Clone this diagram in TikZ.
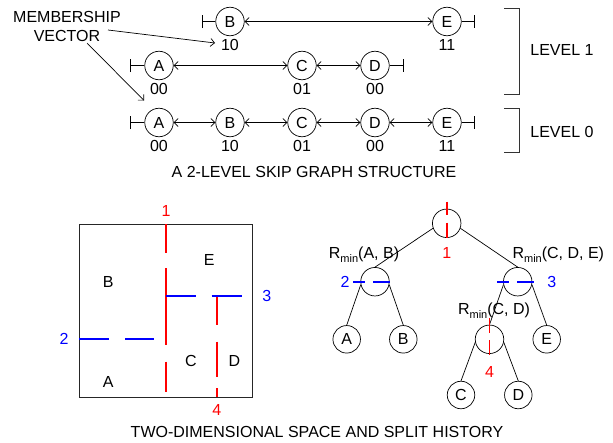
\documentclass[tikz,border=0pt]{standalone}
\usepackage{fontspec}
\setmainfont{Liberation Sans}
\usetikzlibrary{arrows.meta}
\newcommand{\Rmn}{R\raisebox{-0.45ex}{\fontsize{11}{11}\selectfont min}}
\tikzset{
  sg/.style={circle,draw,line width=0.7pt,minimum size=28.5pt,inner sep=0pt,font=\fontsize{16}{16}\selectfont},
  tn/.style={circle,draw,line width=0.7pt,minimum size=28.5pt,inner sep=0pt},
  lf/.style={circle,draw,line width=0.7pt,minimum size=27.5pt,inner sep=0pt,font=\fontsize{16}{16}\selectfont},
  lbl/.style={font=\fontsize{16}{16}\selectfont,inner sep=0pt},
  lnk/.style={line width=0.7pt,{Straight Barb[length=4pt,width=8pt]}-{Straight Barb[length=4pt,width=8pt]}},
  endbar/.style={line width=0.7pt,-{Bar[width=13pt,line width=0.9pt]}},
  ptr/.style={line width=0.7pt,-{Straight Barb[length=4pt,width=8pt]}},
  tedge/.style={line width=0.7pt},
  redl/.style={draw=red,line width=1.9pt},
  bluel/.style={draw=blue,line width=1.9pt},
}
\begin{document}
\begin{tikzpicture}[x=1pt,y=-1pt]
\useasboundingbox (0,0) rectangle (613,442);
% ---------- skip graph, level 1 top list
\node[sg] (B1) at (230,21.5) {B};
\node[sg] (E1) at (447,21.5) {E};
\node[lbl] at (230,45) {10};
\node[lbl] at (447,45) {11};
\coordinate (b1L) at (202,21.5);
\coordinate (b1R) at (475,21.5);
\draw[endbar] (B1) -- (b1L);
\draw[endbar] (E1) -- (b1R);
\draw[lnk] (B1) -- (E1);
% level 1 second list
\node[sg] (A2) at (159,65.5) {A};
\node[sg] (C2) at (302,65.5) {C};
\node[sg] (D2) at (375,65.5) {D};
\node[lbl] at (159,88.5) {00};
\node[lbl] at (302,88.5) {01};
\node[lbl] at (375,88.5) {00};
\coordinate (b2L) at (130,65.5);
\coordinate (b2R) at (404,65.5);
\draw[endbar] (A2) -- (b2L);
\draw[endbar] (D2) -- (b2R);
\draw[lnk] (A2) -- (C2);
\draw[lnk] (C2) -- (D2);
% level 0
\node[sg] (A0) at (159,122.5) {A};
\node[sg] (B0) at (230,122.5) {B};
\node[sg] (C0) at (302,122.5) {C};
\node[sg] (D0) at (375,122.5) {D};
\node[sg] (E0) at (447,122.5) {E};
\node[lbl] at (159,146) {00};
\node[lbl] at (230,146) {10};
\node[lbl] at (302,146) {01};
\node[lbl] at (375,146) {00};
\node[lbl] at (447,146) {11};
\coordinate (b0L) at (130,122.5);
\coordinate (b0R) at (475,122.5);
\draw[endbar] (A0) -- (b0L);
\draw[endbar] (E0) -- (b0R);
\draw[lnk] (A0) -- (B0);
\draw[lnk] (B0) -- (C0);
\draw[lnk] (C0) -- (D0);
\draw[lnk] (D0) -- (E0);
% membership vector
\node[lbl,align=center] (mv) at (67,26) {MEMBERSHIP\\[3pt]VECTOR};
\coordinate (mv1s) at (108,30);
\coordinate (mv1e) at (215,43);
\coordinate (mv2s) at (87,43);
\coordinate (mv2e) at (144,100.5);
\draw[ptr] (mv1s) -- (mv1e);
\draw[ptr] (mv2s) -- (mv2e);
% level brackets
\draw[line width=0.9pt,black!80] (504,8) -- (519,8) -- (519,94) -- (504,94);
\draw[line width=0.9pt,black!80] (504,108) -- (519,108) -- (519,152) -- (504,152);
\node[lbl] (lv1) at (562,50) {LEVEL 1};
\node[lbl] (lv0) at (562,132) {LEVEL 0};
\node[lbl] (cap1) at (314,172) {A 2-LEVEL SKIP GRAPH STRUCTURE};
% ---------- 2D space
\draw[line width=1pt,black!85] (79,224) rectangle (252,397);
\draw[redl] (166,224) -- (166,253.3);
\draw[redl] (166,268.3) -- (166,345);
\draw[redl] (166,361.7) -- (166,391.7);
\draw[bluel] (166,296) -- (195.7,296);
\draw[bluel] (211.7,296) -- (241.7,296);
\draw[bluel] (79,339) -- (109,339);
\draw[bluel] (125,339) -- (154.3,339);
\draw[redl] (216.7,296.7) -- (216.7,325);
\draw[redl] (216.7,341.7) -- (216.7,377.3);
\draw[redl] (216.7,388.3) -- (216.7,397);
\node[lbl,red] at (166,211) {1};
\node[lbl,blue] at (64,339) {2};
\node[lbl,blue] at (266.7,296) {3};
\node[lbl,red] at (216.7,410) {4};
\node[lbl] at (108.3,281.7) {B};
\node[lbl] at (209.3,260) {E};
\node[lbl] at (191,360.7) {C};
\node[lbl] at (234.3,360.7) {D};
\node[lbl] at (108.3,381.7) {A};
% ---------- split tree
\node[tn] (rt) at (446.7,223.3) {};
\node[tn] (lc) at (375,281.7) {};
\node[tn] (rc) at (517.7,281.7) {};
\node[tn] (ic) at (489.5,339.3) {};
\node[lf] (tA) at (346.7,339.3) {A};
\node[lf] (tB) at (403.3,339.3) {B};
\node[lf] (tE) at (546.7,339.3) {E};
\node[lf] (tC) at (461,395) {C};
\node[lf] (tD) at (518.3,395) {D};
\draw[tedge] (rt.200) -- (lc.north);
\draw[tedge] (rt.340) -- (rc.north);
\draw[tedge] (lc.192) -- (tA.north);
\draw[tedge] (lc.348) -- (tB.north);
\draw[tedge] (rc.192) -- (ic.north);
\draw[tedge] (rc.348) -- (tE.north);
\draw[tedge] (ic.192) -- (tC.north);
\draw[tedge] (ic.348) -- (tD.north);
\draw[redl] (446.7,201.7) -- (446.7,215);
\draw[redl] (446.7,222.5) -- (446.7,237.5);
\draw[bluel] (353,281.7) -- (364.5,281.7);
\draw[bluel] (373,281.7) -- (390,281.7);
\draw[bluel] (497,281.7) -- (508.5,281.7);
\draw[bluel] (517,281.7) -- (533.5,281.7);
\draw[redl] (489.5,318.3) -- (489.5,333.3);
\draw[redl] (489.5,340) -- (489.5,355);
\node[lbl,red] at (446.7,252.7) {1};
\node[lbl,blue] at (345,281.7) {2};
\node[lbl,blue] at (551.7,281.7) {3};
\node[lbl,red] at (489.5,371.7) {4};
\node[lbl] at (364,255) {\Rmn(A, B)};
\node[lbl] at (558.3,255) {\Rmn(C, D, E)};
\node[lbl] at (494,311) {\Rmn(C, D)};
\node[lbl] (cap2) at (317,432) {TWO-DIMENSIONAL SPACE AND SPLIT HISTORY};
\end{tikzpicture}
\end{document}
